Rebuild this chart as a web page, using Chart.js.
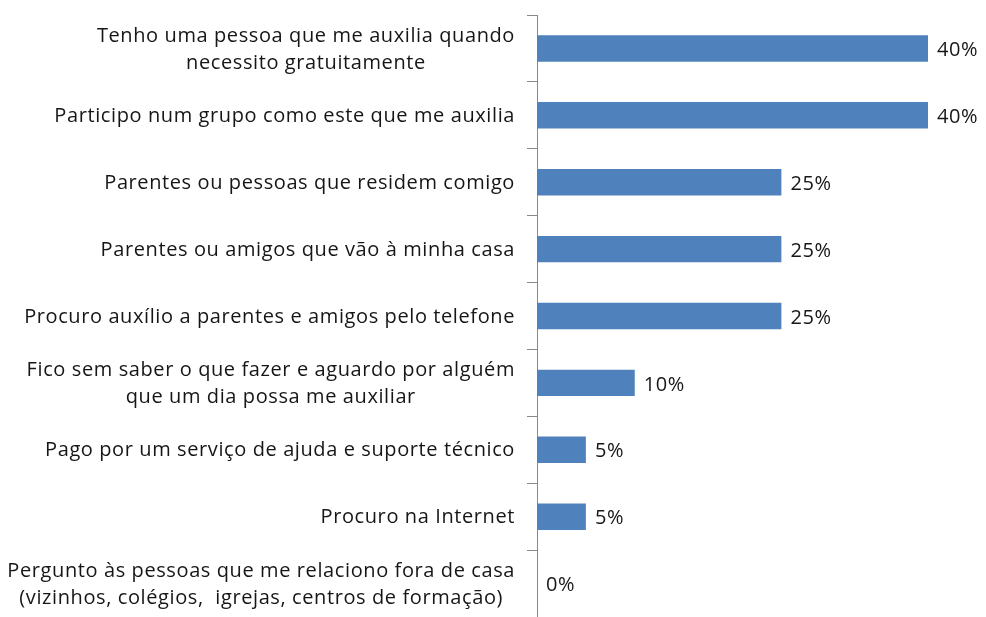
<!DOCTYPE html>
<html>
<head>
<meta charset="utf-8">
<script src="https://cdn.jsdelivr.net/npm/chart.js@4"></script>
<style>
  html, body { margin: 0; padding: 0; background: #fff; }
  #wrap { width: 986px; height: 617px; overflow: hidden; }
</style>
</head>
<body>
<div id="wrap"><canvas id="helpChart" width="986" height="617"></canvas></div>
<script>
const categories = [
  ["Tenho uma pessoa que me auxilia quando", "necessito gratuitamente"],
  "Participo num grupo como este que me auxilia",
  "Parentes ou pessoas que residem comigo",
  "Parentes ou amigos que vão à minha casa",
  "Procuro auxílio a parentes e amigos pelo telefone",
  ["Fico sem saber o que fazer e aguardo por alguém", "que um dia possa me auxiliar"],
  "Pago por um serviço de ajuda e suporte técnico",
  "Procuro na Internet",
  ["Pergunto às pessoas que me relaciono fora de casa", "(vizinhos, colégios,  igrejas, centros de formação)"]
];
const percentages = [40, 40, 25, 25, 25, 10, 5, 5, 0];

const FONT = "20px 'Open Sans', sans-serif";
const SPACING = "0.6px";
const LINE_H = 27;
const TEXT_COLOR = "#161616";

// category names: block right-aligned to the axis, lines centred within the block
const categoryLabels = {
  id: "categoryLabels",
  afterDraw(chart) {
    const ctx = chart.ctx;
    const yScale = chart.scales.y;
    const right = yScale.right - 10 - 12;
    ctx.save();
    ctx.font = FONT;
    ctx.letterSpacing = SPACING;
    ctx.fillStyle = TEXT_COLOR;
    ctx.textAlign = "center";
    ctx.textBaseline = "middle";
    categories.forEach((label, i) => {
      const lines = Array.isArray(label) ? label : [label];
      const w = Math.max(...lines.map((l) => ctx.measureText(l).width));
      const cx = right - w / 2;
      const y0 = yScale.getPixelForTick(i) + 1 - ((lines.length - 1) * LINE_H) / 2;
      lines.forEach((l, j) => ctx.fillText(l, cx, y0 + j * LINE_H));
    });
    ctx.restore();
  }
};

// writes "NN%" just past the end of each bar
const valueLabels = {
  id: "valueLabels",
  afterDatasetsDraw(chart) {
    const ctx = chart.ctx;
    const meta = chart.getDatasetMeta(0);
    ctx.save();
    ctx.font = FONT;
    ctx.letterSpacing = SPACING;
    ctx.fillStyle = TEXT_COLOR;
    ctx.textAlign = "left";
    ctx.textBaseline = "middle";
    meta.data.forEach((bar, i) => {
      ctx.fillText(percentages[i] + "%", bar.x + 9, bar.y + 2);
    });
    ctx.restore();
  }
};

Chart.register(categoryLabels, valueLabels);

new Chart(document.getElementById("helpChart").getContext("2d"), {
  type: "bar",
  data: {
    labels: categories,
    datasets: [
      {
        data: percentages,
        backgroundColor: "#4f81bd",
        borderWidth: 0,
        barPercentage: 0.395,
        categoryPercentage: 1,
      },
    ],
  },
  options: {
    indexAxis: "y",
    responsive: false,
    maintainAspectRatio: false,
    animation: false,
    layout: { padding: { top: 15, right: 58, bottom: -2, left: 0 } },
    plugins: {
      legend: { display: false },
      tooltip: { enabled: false },
    },
    scales: {
      x: {
        display: false,
        min: 0,
        max: 40,
      },
      y: {
        afterFit: (scale) => {
          // fixed axis position; labels are drawn by categoryLabels
          scale.width = 537;
          scale.paddingTop = 0;
          scale.paddingBottom = 0;
        },
        border: { display: true, color: "#8a8a8a", width: 1 },
        grid: {
          offset: true,
          drawOnChartArea: false,
          drawTicks: true,
          tickLength: 10,
          color: "#8a8a8a",
        },
        ticks: { display: false },
      },
    },
  },
});
</script>
</body>
</html>
